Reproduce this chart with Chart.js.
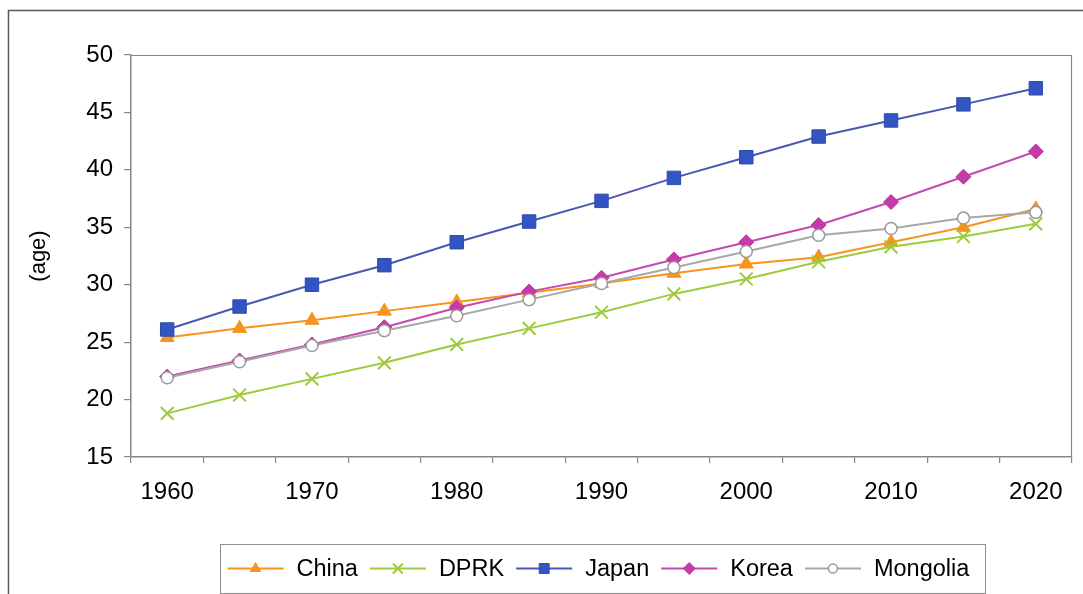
<!DOCTYPE html>
<html>
<head>
<meta charset="utf-8">
<title>Median age, 1960-2020</title>
<script src="https://cdn.jsdelivr.net/npm/chart.js@4/dist/chart.umd.min.js"></script>
<style>
  html, body { margin: 0; padding: 0; background: #ffffff; }
  #wrap { width: 1083px; height: 594px; }
</style>
</head>
<body>
<div id="wrap"><canvas id="c" width="1083" height="594"></canvas></div>
<script>
// Years on the category axis (every five years)
const years = ['1960', '1965', '1970', '1975', '1980', '1985', '1990',
               '1995', '2000', '2005', '2010', '2015', '2020'];

// Median age by country (years)
const china    = [25.4, 26.2, 26.9, 27.7, 28.5, 29.3, 30.1, 31.0, 31.8, 32.4, 33.7, 35.0, 36.6];
const dprk     = [18.8, 20.4, 21.8, 23.2, 24.8, 26.2, 27.6, 29.2, 30.5, 32.0, 33.3, 34.2, 35.3];
const japan    = [26.1, 28.1, 30.0, 31.7, 33.7, 35.5, 37.3, 39.3, 41.1, 42.9, 44.3, 45.7, 47.1];
const korea    = [22.0, 23.4, 24.8, 26.3, 28.0, 29.4, 30.6, 32.2, 33.7, 35.2, 37.2, 39.4, 41.6];
const mongolia = [21.9, 23.3, 24.7, 26.0, 27.3, 28.7, 30.1, 31.5, 32.9, 34.3, 34.9, 35.8, 36.3];

const seriesNames = ['China', 'DPRK', 'Japan', 'Korea', 'Mongolia'];
const yTicks = { min: 15, max: 50, step: 5 };
const yTitle = '(age)';

const FONT = '"Liberation Sans", Arial, Helvetica, sans-serif';
const AXIS_GREY = '#858585';

const styles = [
  { line: '#F7941D', fill: '#F7941D', stroke: '#F7941D', shape: 'triangle', r: 8,   bw: 1,   lr: 6 },
  { line: '#9DCB3C', fill: '#9DCB3C', stroke: '#9DCB3C', shape: 'crossRot', r: 9,   bw: 2,   lr: 7 },
  { line: '#4A58B2', fill: '#3355C4', stroke: '#2E4AA8', shape: 'rect',     r: 9.5, bw: 1,   lr: 7 },
  { line: '#C44AAE', fill: '#C53CA8', stroke: '#B8369C', shape: 'rectRot',  r: 7.5, bw: 1,   lr: 6 },
  { line: '#A8A8A8', fill: '#FFFFFF', stroke: '#9A9A9A', shape: 'circle',   r: 6,   bw: 1.5, lr: 4.5 }
];

const values = [china, dprk, japan, korea, mongolia];

const datasets = values.map((vals, i) => ({
  label: seriesNames[i],
  data: vals,
  borderColor: styles[i].line,
  borderWidth: 2,
  backgroundColor: styles[i].fill,
  pointStyle: styles[i].shape,
  pointRadius: styles[i].r,
  pointHoverRadius: styles[i].r,
  pointBackgroundColor: styles[i].fill,
  pointBorderColor: styles[i].stroke,
  pointBorderWidth: styles[i].bw,
  tension: 0,
  fill: false,
  // later series are painted on top of earlier ones
  order: values.length - i
}));

// Outer frame of the figure and the frame round the plot area
const framePlugin = {
  id: 'frames',
  beforeDraw(chart) {
    const ctx = chart.ctx;
    ctx.save();
    ctx.fillStyle = '#ffffff';
    ctx.fillRect(0, 0, chart.width, chart.height);
    ctx.strokeStyle = '#5a5a5a';
    ctx.lineWidth = 1.5;
    ctx.strokeRect(8.5, 10.5, chart.width + 50, chart.height + 50);
    ctx.restore();
  },
  beforeDatasetsDraw(chart) {
    const a = chart.chartArea;
    const ctx = chart.ctx;
    ctx.save();
    ctx.strokeStyle = AXIS_GREY;
    ctx.lineWidth = 1.2;
    ctx.beginPath();
    ctx.moveTo(a.left, a.top + 0.5);
    ctx.lineTo(a.right - 0.5, a.top + 0.5);
    ctx.lineTo(a.right - 0.5, a.bottom);
    ctx.stroke();
    ctx.restore();
  }
};

// Boxed legend below the plot: a line sample with the series marker, then the name
const legendPlugin = {
  id: 'boxLegend',
  afterDraw(chart) {
    const ctx = chart.ctx;
    const box = { x: 220.5, y: 544.5, w: 765, h: 49 };
    ctx.save();
    ctx.fillStyle = '#ffffff';
    ctx.fillRect(box.x, box.y, box.w, box.h);
    ctx.strokeStyle = '#8c8c8c';
    ctx.lineWidth = 1;
    ctx.strokeRect(box.x, box.y, box.w, box.h);

    ctx.font = '23.5px ' + FONT;
    ctx.textBaseline = 'middle';
    ctx.textAlign = 'left';
    const cy = box.y + 24;
    const lineLen = 56, textGap = 13, itemGap = 12;
    let x = box.x + 7;
    chart.data.datasets.forEach((ds, i) => {
      const s = styles[i];
      ctx.strokeStyle = s.line;
      ctx.lineWidth = 2;
      ctx.beginPath();
      ctx.moveTo(x, cy);
      ctx.lineTo(x + lineLen, cy);
      ctx.stroke();
      ctx.fillStyle = s.fill;
      ctx.strokeStyle = s.stroke;
      ctx.lineWidth = s.bw;
      Chart.helpers.drawPoint(ctx, {
        pointStyle: s.shape, radius: s.lr, rotation: 0, borderWidth: s.bw
      }, x + lineLen / 2, cy);
      x += lineLen + textGap;
      ctx.fillStyle = '#000000';
      ctx.fillText(ds.label, x, cy + 1);
      x += ctx.measureText(ds.label).width + itemGap;
    });
    ctx.restore();
  }
};

new Chart(document.getElementById('c'), {
  type: 'line',
  data: { labels: years, datasets: datasets },
  plugins: [framePlugin, legendPlugin],
  options: {
    responsive: false,
    animation: false,
    events: [],
    layout: { padding: { left: 0, top: 55, right: 6, bottom: 0 } },
    plugins: {
      legend: { display: false },
      tooltip: { enabled: false },
      title: { display: false }
    },
    scales: {
      x: {
        type: 'category',
        offset: true,
        afterFit(scale) { scale.height = 137; },
        grid: {
          display: true,
          offset: true,
          drawOnChartArea: false,
          drawTicks: true,
          tickLength: 6,
          color: AXIS_GREY,
          lineWidth: 1.2
        },
        border: { display: true, color: AXIS_GREY, width: 1.5 },
        ticks: {
          autoSkip: false,
          maxRotation: 0,
          minRotation: 0,
          padding: 15,
          color: '#000000',
          font: { family: FONT, size: 24 },
          callback(value) {
            const y = this.getLabelForValue(value);
            return Number(y) % 10 === 0 ? y : '';
          }
        }
      },
      y: {
        min: yTicks.min,
        max: yTicks.max,
        afterFit(scale) { scale.width = 131; },
        grid: {
          display: true,
          drawOnChartArea: false,
          drawTicks: true,
          tickLength: 7,
          color: AXIS_GREY,
          lineWidth: 1.2
        },
        border: { display: true, color: AXIS_GREY, width: 1.5 },
        ticks: {
          stepSize: yTicks.step,
          padding: 11,
          color: '#000000',
          font: { family: FONT, size: 24 }
        },
        title: {
          display: true,
          text: yTitle,
          color: '#000000',
          font: { family: FONT, size: 22 },
          padding: { top: 26, bottom: 0 }
        }
      }
    }
  }
});
</script>
</body>
</html>
